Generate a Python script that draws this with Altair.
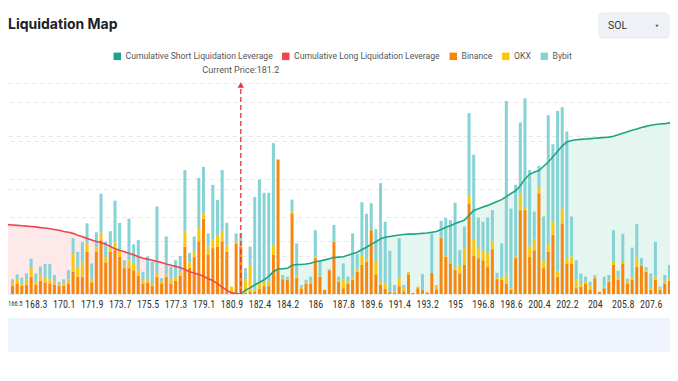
import altair as alt
import pandas as pd

# ---------------- data ----------------
# price level of every bar (the current price 181.2 owns its own slot)
price_levels = ([round(166.8 + 0.3 * i, 1) for i in range(48)] + [181.2]
                + [round(181.2 + 0.3 * k, 1) for k in range(94)])
N_BARS = len(price_levels)          # 143
slot = list(range(N_BARS))

binance = [1.5, 2.0, 1.6, 1.7, 3.3, 1.8, 2.5, 2.2, 2.0, 1.8,
           1.5, 1.6, 2.0, 4.2, 3.3, 3.2, 8.0, 2.2, 8.0, 10.2,
           6.0, 8.0, 8.3, 7.1, 4.9, 4.9, 4.5, 3.5, 2.0, 2.2,
           1.5, 3.2, 2.0, 3.2, 2.0, 2.5, 3.5, 9.0, 5.0, 7.0,
           10.0, 14.3, 7.5, 8.7, 9.0, 10.0, 8.0, 0.2, 9.6, 9.0,
           0.3, 0.5, 0.5, 1.0, 1.5, 1.5, 7.4, 25.5, 2.8, 2.7,
           15.3, 3.0, 1.0, 2.0, 2.0, 6.8, 3.3, 0.8, 4.5, 9.9,
           2.3, 1.1, 2.0, 2.7, 4.2, 5.5, 6.1, 12.1, 3.6, 1.7,
           1.0, 0.4, 0.3, 1.5, 0.5, 3.6, 0.2, 1.1, 0.8, 0.3,
           4.0, 0.9, 10.6, 7.1, 5.8, 4.6, 3.9, 5.5, 17.2, 7.2,
           6.8, 6.4, 5.1, 8.5, 2.8, 2.7, 1.9, 0.8, 6.8, 15.9,
           15.9, 7.0, 8.3, 19.1, 4.9, 8.0, 11.2, 3.3, 13.4, 5.8,
           5.8, 1.1, 1.4, 2.0, 0.8, 3.0, 0.4, 1.1, 2.3, 5.5,
           2.7, 5.8, 1.9, 2.7, 5.1, 5.3, 4.2, 0.8, 2.7, 0.8,
           1.9, 2.5, 4.0]

okx = [0.8, 0.7, 0.5, 1.0, 1.6, 0.6, 1.2, 1.0, 0.8, 0.6,
       0.3, 0.5, 0.8, 3.4, 1.8, 2.8, 1.5, 0.6, 0.8, 1.4,
       1.0, 0.8, 1.5, 1.3, 0.6, 1.5, 1.2, 1.0, 0.6, 0.5,
       0.4, 0.6, 0.3, 0.5, 0.8, 0.6, 0.6, 2.8, 1.0, 1.0,
       2.5, 1.1, 1.5, 1.5, 2.0, 1.8, 1.2, 1.2, 0.3, 0.3,
       2.4, 5.0, 0.3, 1.0, 1.0, 1.0, 1.9, 0.0, 0.2, 0.0,
       0.3, 0.5, 0.2, 0.2, 0.5, 0.3, 0.3, 0.0, 0.0, 0.0,
       0.3, 1.6, 0.3, 0.6, 0.4, 1.9, 0.6, 0.0, 2.5, 0.6,
       1.0, 0.0, 0.2, 1.5, 0.6, 0.6, 0.0, 0.3, 0.0, 0.0,
       0.0, 0.8, 0.2, 0.1, 0.3, 0.3, 1.6, 3.2, 1.4, 3.2,
       1.9, 1.9, 2.7, 1.5, 0.4, 0.5, 1.8, 0.3, 0.3, 3.0,
       0.6, 2.0, 2.0, 1.0, 1.3, 1.5, 2.5, 1.0, 2.8, 1.0,
       1.3, 1.6, 0.5, 0.4, 0.8, 0.3, 0.0, 0.3, 0.3, 0.6,
       0.6, 0.3, 0.4, 0.6, 1.7, 0.2, 0.3, 0.5, 0.6, 0.3,
       0.6, 0.5, 1.0]

bybit = [0.5, 1.0, 1.0, 1.2, 1.8, 1.5, 1.5, 2.5, 2.9, 1.2,
         0.5, 0.7, 1.7, 3.0, 2.9, 3.9, 3.9, 3.0, 2.9, 7.4,
         2.9, 3.1, 7.9, 5.1, 0.9, 7.9, 3.7, 5.7, 1.6, 4.4,
         4.2, 12.8, 0.7, 7.2, 2.4, 3.3, 3.1, 11.7, 1.8, 2.9,
         9.5, 8.7, 2.5, 10.5, 6.8, 11.7, 4.3, 0.0, 1.6, 2.2,
         2.2, 3.5, 17.6, 19.7, 16.7, 16.7, 19.3, 0.0, 0.6, 0.6,
         2.3, 6.1, 0.5, 0.5, 0.8, 5.0, 2.8, 0.0, 0.2, 3.2,
         0.7, 3.1, 1.0, 8.2, 3.0, 10.0, 8.5, 5.1, 6.2, 18.7,
         11.7, 7.8, 1.2, 7.6, 0.6, 0.0, 0.0, 0.0, 3.0, 0.0,
         7.5, 0.0, 3.1, 7.2, 7.9, 12.4, 2.8, 4.1, 15.7, 16.0,
         5.8, 5.4, 6.7, 5.9, 0.8, 6.4, 32.9, 15.1, 13.6, 13.6,
         20.6, 14.5, 5.3, 4.2, 8.5, 24.4, 14.7, 30.4, 19.2, 24.0,
         7.6, 3.7, 2.0, 0.9, 0.7, 0.3, 0.0, 1.9, 1.0, 6.0,
         1.1, 5.3, 0.6, 5.5, 6.5, 1.3, 0.6, 2.6, 6.6, 0.3,
         1.1, 2.5, 5.0]

# cumulative long leverage, slots -1 .. 49 (left of current price)
long_slot = list(range(-1, 50))
long_cum = [181, 180, 179, 178, 177, 176, 175, 173, 172, 170,
            168, 166, 163, 161, 158, 153, 149, 145, 141, 137,
            134, 130, 124, 118, 114, 110, 106, 102, 97, 93,
            91, 88, 85, 82, 78, 75, 72, 69, 64, 58,
            55, 51, 46, 40, 35, 27, 18, 10, 3, 1, 0]

# cumulative short leverage, slots 49 .. 143 (right of current price)
short_slot = list(range(49, 144))
short_cum = [0, 10, 16, 24, 30, 37, 46, 58, 65, 66,
             67, 75, 77, 77, 78, 80, 84, 86, 89, 92,
             95, 96, 97, 101, 105, 109, 116, 122, 130, 136,
             144, 148, 150, 152, 154, 155, 156, 156, 157, 158,
             159, 161, 163, 168, 174, 178, 184, 188, 193, 205,
             218, 222, 227, 231, 236, 241, 246, 254, 262, 269,
             282, 300, 312, 318, 322, 333, 344, 358, 372, 386,
             396, 400, 402, 403, 404, 405, 406, 407, 408, 409,
             411, 415, 419, 423, 427, 430, 434, 437, 440, 442,
             443, 444, 446, 447, 448]

tick_labels = [166.5, 168.3, 170.1, 171.9, 173.7, 175.5, 177.3, 179.1, 180.9,
               182.4, 184.2, 186, 187.8, 189.6, 191.4, 193.2, 195, 196.8,
               198.6, 200.4, 202.2, 204, 205.8, 207.6]
tick_slots = [-1 + 6 * k for k in range(len(tick_labels))]
current_price = 181.2
current_slot = 49
symbol = "SOL"
title_text = "Liquidation Map"

series_names = ["Cumulative Short Liquidation Leverage",
                "Cumulative Long Liquidation Leverage",
                "Binance", "OKX", "Bybit"]
series_colors = ["#1fa386", "#f0454e", "#f7860d", "#f9c80e", "#86d3d6"]

# ---------------- frames ----------------
rows = []
for i in slot:
    for k, (name, arr) in enumerate([("Binance", binance), ("OKX", okx), ("Bybit", bybit)]):
        rows.append({"slot": i, "price": price_levels[i], "exchange": name,
                     "value": arr[i], "ord": k})
bar_df = pd.DataFrame(rows)
long_df = pd.DataFrame({"slot": long_slot, "value": long_cum,
                        "series": series_names[1]})
short_df = pd.DataFrame({"slot": short_slot, "value": short_cum,
                         "series": series_names[0]})
cp_df = pd.DataFrame({"slot": [current_slot],
                      "label": [f"Current Price:{current_price}"]})
one = pd.DataFrame({"a": [0]})

W, H = 662, 211
xscale = alt.Scale(domain=[0.106, 140.06], nice=False, zero=False)
bar_y = alt.Scale(domain=[0, 40], nice=False)
line_y = alt.Scale(domain=[0, 550], nice=False)
color_scale = alt.Scale(domain=series_names, range=series_colors)
legend = alt.Legend(orient="none", legendX=105, legendY=-31, direction="horizontal",
                    title=None, symbolType="square", symbolSize=56,
                    symbolStrokeWidth=0, labelFontSize=8.6, labelFont="Roboto",
                    labelColor="#555555", columnPadding=8.5, labelOffset=4,
                    padding=0)

label_js = "[" + ",".join(f"'{t}'" for t in tick_labels) + "]"
LABEL_FONT = "Liberation Sans Narrow, Roboto Condensed, Roboto"
x_axis = alt.Axis(values=tick_slots[1:], labelExpr=f"{label_js}[round((datum.value + 1) / 6)]",
                  title=None, grid=False, domain=False, ticks=False, labelFontSize=10,
                  labelFont=LABEL_FONT, labelColor="#333333", labelPadding=5,
                  labelOverlap=False, labelFlush=False, labelBound=False)
X = alt.X("slot:Q", scale=xscale, axis=x_axis)

bars = alt.Chart(bar_df).mark_bar(width=3, clip=True).encode(
    x=X,
    y=alt.Y("value:Q", stack="zero", scale=bar_y,
            axis=alt.Axis(orient="left", values=[0, 10, 20, 30, 40], labels=False,
                          ticks=False, domain=False, title=None, grid=True,
                          gridDash=[4, 4], gridColor="#e6e6e6")),
    color=alt.Color("exchange:N", scale=color_scale, legend=legend),
    order=alt.Order("ord:Q"),
)

area_long = alt.Chart(long_df).mark_area(color="#fde9ea", clip=True).encode(
    x=X, y=alt.Y("value:Q", scale=line_y, axis=None))
area_short = alt.Chart(short_df).mark_area(color="#e5f5f0", clip=True).encode(
    x=X, y=alt.Y("value:Q", scale=line_y,
                 axis=alt.Axis(orient="right", values=[0, 100, 200, 300, 400, 500],
                               labels=False, ticks=False, domain=False, title=None,
                               grid=True, gridDash=[4, 4], gridColor="#e6e6e6")))
line_long = alt.Chart(long_df).mark_line(strokeWidth=1.6, clip=True).encode(
    x=X, y=alt.Y("value:Q", scale=line_y, axis=None),
    color=alt.Color("series:N", scale=color_scale, legend=legend))
line_short = alt.Chart(short_df).mark_line(strokeWidth=1.6, clip=True).encode(
    x=X, y=alt.Y("value:Q", scale=line_y, axis=None),
    color=alt.Color("series:N", scale=color_scale, legend=legend))

cp_rule = alt.Chart(cp_df).mark_rule(color="#e8333d", strokeDash=[5, 3],
                                     strokeWidth=1.3).encode(
    x=X, y=alt.value(6), y2=alt.value(H))
cp_head = alt.Chart(cp_df).mark_point(shape="triangle-up", filled=True, size=40,
                                      color="#e8333d", opacity=1).encode(
    x=X, y=alt.value(2))
cp_text = alt.Chart(cp_df).mark_text(fontSize=9, font="Roboto", color="#555555",
                                     baseline="middle").encode(
    x=X, y=alt.value(-13), text="label:N")

# the first tick label falls at the very left edge: keep it, shrunk, inside the view
first_label = alt.Chart(pd.DataFrame({"t": [str(tick_labels[0])]})).mark_text(
    align="left", baseline="top", fontSize=6.5, font=LABEL_FONT,
    color="#333333").encode(x=alt.value(0), y=alt.value(H + 7), text="t:N")

title = alt.Chart(pd.DataFrame({"t": [title_text]})).mark_text(
    align="left", baseline="middle", fontSize=14, fontWeight="bold",
    font="Inter", color="#1d2129").encode(
    x=alt.value(0), y=alt.value(-58), text="t:N")

dd_box = alt.Chart(one).mark_rect(fill="#eef1f6", stroke="#e6e9ef", strokeWidth=1,
                                  cornerRadius=4).encode(
    x=alt.value(591), x2=alt.value(661), y=alt.value(-70), y2=alt.value(-45))
dd_text = alt.Chart(pd.DataFrame({"t": [symbol]})).mark_text(
    align="left", baseline="middle", fontSize=10.5, font="Roboto",
    color="#333333").encode(x=alt.value(600), y=alt.value(-57), text="t:N")
dd_arrow = alt.Chart(one).mark_point(shape="triangle-down", filled=True, size=10,
                                     color="#555555", opacity=1).encode(
    x=alt.value(649), y=alt.value(-57))

band = alt.Chart(one).mark_rect(fill="#eef3fd").encode(
    x=alt.value(0), x2=alt.value(W), y=alt.value(235), y2=alt.value(269))

chart = alt.layer(
    band, area_long, area_short, bars, line_long, line_short,
    cp_rule, cp_head, cp_text, first_label, title, dd_box, dd_text, dd_arrow,
).resolve_scale(y="independent").properties(
    width=W, height=H,
    autosize=alt.AutoSizeParams(type="none"),
    padding={"left": 0, "top": 75, "right": 0, "bottom": 70},
).configure_view(strokeWidth=0)

chart.save("out.html", embed_options={"renderer": "svg", "actions": False})
